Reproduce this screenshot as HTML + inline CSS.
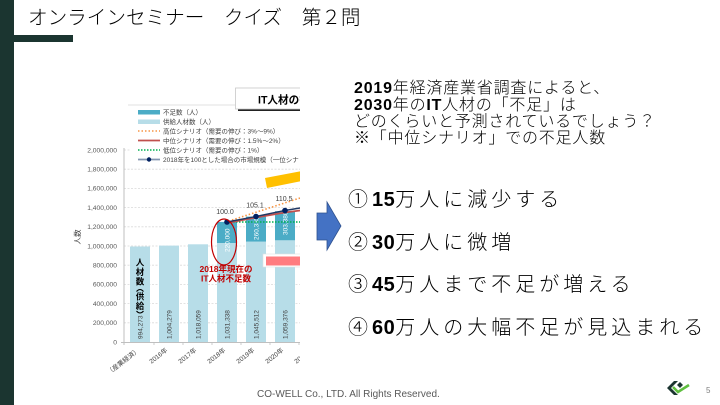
<!DOCTYPE html>
<html><head><meta charset="utf-8"><style>
html,body{margin:0;padding:0;background:#fff;width:720px;height:405px;overflow:hidden}
svg{display:block}
</style></head><body>
<svg width="720" height="405" viewBox="0 0 720 405" xmlns="http://www.w3.org/2000/svg" font-family="'Liberation Sans','Noto Sans CJK JP',sans-serif">
<rect width="720" height="405" fill="#fff"/>
<rect x="0" y="0" width="14" height="405" fill="#1b3530"/>
<rect x="14" y="35" width="59" height="7" fill="#1b3530"/>
<text x="28" y="24" font-size="19.6" fill="#000" font-weight="300">オンラインセミナー　クイズ　第２問</text>

<defs><clipPath id="c"><rect x="60" y="85" width="240" height="290"/></clipPath></defs>
<g clip-path="url(#c)">
  <g stroke="#d9d9d9" stroke-width="0.8" stroke-dasharray="2 1.5">
    <line x1="124" y1="322.8" x2="300" y2="322.8"/>
    <line x1="124" y1="303.6" x2="300" y2="303.6"/>
    <line x1="124" y1="284.4" x2="300" y2="284.4"/>
    <line x1="124" y1="265.2" x2="300" y2="265.2"/>
    <line x1="124" y1="246" x2="300" y2="246"/>
    <line x1="124" y1="226.8" x2="300" y2="226.8"/>
    <line x1="124" y1="207.6" x2="300" y2="207.6"/>
    <line x1="124" y1="188.4" x2="300" y2="188.4"/>
    <line x1="124" y1="169.2" x2="300" y2="169.2"/>
    <line x1="124" y1="150" x2="300" y2="150"/>
  </g>
  <g font-size="6.7" fill="#595959" text-anchor="end">
    <text x="117" y="152.3">2,000,000</text>
    <text x="117" y="171.5">1,800,000</text>
    <text x="117" y="190.7">1,600,000</text>
    <text x="117" y="209.9">1,400,000</text>
    <text x="117" y="229.1">1,200,000</text>
    <text x="117" y="248.3">1,000,000</text>
    <text x="117" y="267.5">800,000</text>
    <text x="117" y="286.7">600,000</text>
    <text x="117" y="305.9">400,000</text>
    <text x="117" y="325.1">200,000</text>
    <text x="117" y="344.3">0</text>
  </g>
  <text transform="translate(80,237) rotate(-90)" font-size="7.5" fill="#404040" text-anchor="middle">人数</text>
  <line x1="124" y1="148" x2="124" y2="345" stroke="#bfbfbf" stroke-width="1"/>
  <line x1="121" y1="342.5" x2="300" y2="342.5" stroke="#bfbfbf" stroke-width="1"/>
  <g stroke="#bfbfbf" stroke-width="0.8">
    <line x1="154" y1="342" x2="154" y2="345"/>
    <line x1="183" y1="342" x2="183" y2="345"/>
    <line x1="212" y1="342" x2="212" y2="345"/>
    <line x1="241" y1="342" x2="241" y2="345"/>
    <line x1="270" y1="342" x2="270" y2="345"/>
    <line x1="299" y1="342" x2="299" y2="345"/>
  </g>
  <g fill="#b7dde8">
    <rect x="130" y="246.5" width="20" height="95.5"/>
    <rect x="159" y="245.6" width="20" height="96.4"/>
    <rect x="188" y="244.3" width="20" height="97.7"/>
    <rect x="217" y="243" width="20" height="99"/>
    <rect x="246" y="241.6" width="20" height="100.4"/>
    <rect x="275" y="240.3" width="20" height="101.7"/>
  </g>
  <g fill="#4bacc6">
    <rect x="217" y="221.9" width="20" height="21.1"/>
    <rect x="246" y="216.6" width="20" height="25"/>
    <rect x="275" y="211.2" width="20" height="29.1"/>
  </g>
  <g font-size="6.5" fill="#404040">
    <text transform="translate(142.3,339) rotate(-90)">994,273</text>
    <text transform="translate(171.3,339) rotate(-90)">1,004,279</text>
    <text transform="translate(200.3,339) rotate(-90)">1,018,059</text>
    <text transform="translate(229.3,339) rotate(-90)">1,031,338</text>
    <text transform="translate(258.3,339) rotate(-90)">1,045,512</text>
    <text transform="translate(287.3,339) rotate(-90)">1,059,376</text>
  </g>
  <g font-size="6.5" fill="#ffffff">
    <text transform="translate(229.3,252) rotate(-90)">220,000</text>
    <text transform="translate(258.3,240) rotate(-90)">260,335</text>
    <text transform="translate(287.3,235) rotate(-90)">303,380</text>
  </g>
  <g font-size="8.5" font-weight="bold" fill="#000" text-anchor="middle">
    <text x="140" y="265.5">人</text>
    <text x="140" y="275">材</text>
    <text x="140" y="284.5">数</text>
    <text x="140" y="299.5">供</text>
    <text x="140" y="309">給</text>
  </g>
  <path d="M136.5,291.5 Q140,287.5 143.5,291.5" fill="none" stroke="#000" stroke-width="1.1"/>
  <path d="M136.5,311 Q140,315 143.5,311" fill="none" stroke="#000" stroke-width="1.1"/>
  <g font-size="6.5" fill="#404040" text-anchor="end">
    <text transform="translate(140,351) rotate(-38)">（産業経済）</text>
    <text transform="translate(168,351) rotate(-38)">2016年</text>
    <text transform="translate(197,351) rotate(-38)">2017年</text>
    <text transform="translate(226,351) rotate(-38)">2018年</text>
    <text transform="translate(255,351) rotate(-38)">2019年</text>
    <text transform="translate(284,351) rotate(-38)">2020年</text>
    <text transform="translate(313,351) rotate(-38)">2021年</text>
  </g>
  <line x1="227" y1="222" x2="300" y2="222" stroke="#00b050" stroke-width="1.6" stroke-dasharray="1.5 1.5"/>
  <line x1="232" y1="220" x2="300" y2="198" stroke="#f79646" stroke-width="1.6" stroke-dasharray="1.5 2"/>
  <polyline points="227,223 256,217.5 285,212.5 300,210.5" fill="none" stroke="#c0504d" stroke-width="1.8"/>
  <polyline points="227,222 256,216.5 285,210.5 300,208" fill="none" stroke="#1f3864" stroke-width="1.4"/>
  <g fill="#002060">
    <circle cx="227" cy="222" r="2.8"/>
    <circle cx="256" cy="216.5" r="2.8"/>
    <circle cx="285" cy="210.5" r="2.8"/>
  </g>
  <g font-size="7" fill="#404040" text-anchor="middle">
    <text x="225" y="214">100.0</text>
    <text x="255" y="207.5">105.1</text>
    <text x="284" y="201">110.5</text>
  </g>
  <ellipse cx="224" cy="242" rx="12.5" ry="23" fill="none" stroke="#c00000" stroke-width="1.2"/>
  <g font-size="8.5" font-weight="bold" fill="#c00000" text-anchor="middle">
    <text x="226" y="272">2018年現在の</text>
    <text x="226" y="281.5">IT人材不足数</text>
  </g>
  <rect x="263" y="254" width="40" height="13" fill="#fff" stroke="#e0e0e0" stroke-width="0.6"/>
  <rect x="266" y="256.5" width="36" height="9" fill="#ff7c80"/>
  <polygon points="265,178 302,171 302,181 267,188" fill="#ffc000"/>
  <rect x="131" y="107" width="170" height="57" fill="#fff"/>
  <line x1="128" y1="105" x2="300" y2="105" stroke="#d9d9d9" stroke-width="0.8"/>
  <rect x="138" y="110" width="22" height="4.5" fill="#4bacc6"/>
  <rect x="138" y="119.5" width="22" height="4.5" fill="#b7dde8"/>
  <line x1="138" y1="131" x2="160" y2="131" stroke="#f79646" stroke-width="1.6" stroke-dasharray="1.5 2"/>
  <line x1="138" y1="140.5" x2="160" y2="140.5" stroke="#c0504d" stroke-width="1.8"/>
  <line x1="138" y1="150" x2="160" y2="150" stroke="#00b050" stroke-width="1.6" stroke-dasharray="1.5 1.5"/>
  <line x1="138" y1="159.5" x2="160" y2="159.5" stroke="#8496b0" stroke-width="1.8"/>
  <circle cx="149" cy="159.5" r="2.2" fill="#002060"/>
  <g font-size="6.5" fill="#404040">
    <text x="163" y="114.5">不足数（人）</text>
    <text x="163" y="124">供給人材数（人）</text>
    <text x="163" y="133.5">高位シナリオ（需要の伸び：3%〜9%）</text>
    <text x="163" y="143">中位シナリオ（需要の伸び：1.5%〜2%）</text>
    <text x="163" y="152.5">低位シナリオ（需要の伸び：1%）</text>
    <text x="163" y="162">2018年を100とした場合の市場規模（一位シナリオ）</text>
  </g>
  <rect x="238" y="90" width="70" height="21" fill="#222"/>
  <rect x="235.5" y="88" width="70" height="21" fill="#fff" stroke="#c8c8c8" stroke-width="0.8"/>
  <text x="258" y="103.5" font-size="10.6" font-weight="bold" fill="#000">IT人材の需給</text>
</g>

<polygon points="317,213 327,213 327,202 341,226 327,250 327,240 317,240" fill="#4472c4" stroke="#2f528f" stroke-width="0.8"/>

<g font-size="16" fill="#000" letter-spacing="0.8" font-weight="300">
  <text x="354" y="93"><tspan font-weight="bold">2019</tspan>年経済産業省調査によると、</text>
  <text x="354" y="110"><tspan font-weight="bold">2030</tspan>年の<tspan font-weight="bold">IT</tspan>人材の「不足」は</text>
  <text x="354" y="126.5">どのくらいと予測されているでしょう？</text>
  <text x="354" y="143">※「中位シナリオ」での不足人数</text>
</g>

<g font-size="20" fill="#000" letter-spacing="4" font-weight="300">
  <text x="348" y="206">①<tspan font-weight="bold" letter-spacing="0.5">15</tspan>万人に減少する</text>
  <text x="348" y="249">②<tspan font-weight="bold" letter-spacing="0.5">30</tspan>万人に微増</text>
  <text x="348" y="291">③<tspan font-weight="bold" letter-spacing="0.5">45</tspan>万人まで不足が増える</text>
  <text x="348" y="334">④<tspan font-weight="bold" letter-spacing="0.5">60</tspan>万人の大幅不足が見込まれる</text>
</g>

<text x="257" y="397" font-size="10" fill="#595959">CO-WELL Co., LTD. All Rights Reserved.</text>
<text x="706" y="393" font-size="8" fill="#7f7f7f">5</text>
<polygon points="667,388 674,381 678,381 671,388 678,395 674,395" fill="#1b3530"/>
<polygon points="677,385 680,382 683,385 680,388" fill="#1b3530"/>
<polyline points="673,387 678,392 689,385" fill="none" stroke="#5fbf3f" stroke-width="2.6"/>
</svg>
</body></html>
